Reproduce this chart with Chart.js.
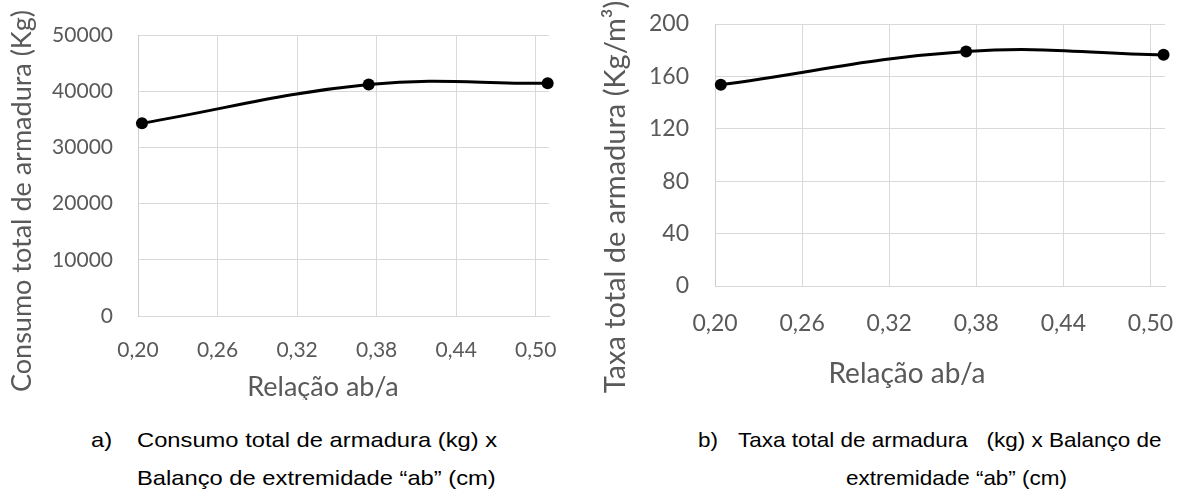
<!DOCTYPE html>
<html>
<head>
<meta charset="utf-8">
<script src="https://cdn.jsdelivr.net/npm/chart.js@4/dist/chart.umd.min.js"></script>
<style>
  body { margin: 0; background: #fff; }
  #page { position: relative; width: 1189px; height: 495px; overflow: hidden; background: #fff; }
  canvas { position: absolute; top: 0; }
  .cap { position: absolute; font-family: "Liberation Sans", Arial, sans-serif; font-size: 21px; color: #000;
         white-space: pre; line-height: 24px; transform-origin: left top; }
  .ca { transform: scaleX(1.13); }
  .cb { transform: scaleX(1.07); }
</style>
</head>
<body>
<div id="page">
  <canvas id="chartA" style="left:0" width="580" height="400"></canvas>
  <canvas id="chartB" style="left:590px" width="599" height="400"></canvas>

  <div class="cap ca" style="left:91px; top:428px">a)</div>
  <div class="cap ca" style="left:137px; top:428px">Consumo total de armadura (kg) x</div>
  <div class="cap ca" style="left:137px; top:466px">Balanço de extremidade “ab” (cm)</div>

  <div class="cap cb" style="left:698px; top:428px">b)</div>
  <div class="cap cb" style="left:738px; top:428px">Taxa total de armadura   (kg) x Balanço de</div>
  <div class="cap cb" style="left:846px; top:466px">extremidade “ab” (cm)</div>
</div>

<script>
// valores
const relacaoA = [0.203, 0.374, 0.509];
const consumo = [34300, 41200, 41400];

const relacaoB = [0.204, 0.373, 0.509];
const taxa = [153.6, 179.0, 176.5];

const xTicks = [0.20, 0.26, 0.32, 0.38, 0.44, 0.50];

const grey = "#595959";
const gridColor = "#d9d9d9";

// axis titles drawn by hand so they can sit off-centre like the Excel ones
const axisTitles = {
  id: "axisTitles",
  afterDraw(chart, args, opts) {
    const ctx = chart.ctx;
    ctx.save();
    ctx.fillStyle = grey;
    ctx.textAlign = "center";
    ctx.textBaseline = "middle";
    ctx.font = opts.xSize + "px Lato";
    ctx.fillText(opts.xText, opts.xPos[0], opts.xPos[1]);
    ctx.font = opts.ySize + "px Lato";
    ctx.translate(opts.yPos[0], opts.yPos[1]);
    ctx.rotate(-Math.PI / 2);
    ctx.fillText(opts.yText, 0, 0);
    ctx.restore();
  },
};

function makeChart(id, xs, ys, cfg) {
  const pts = xs.map((x, i) => ({ x: x, y: ys[i] }));
  return new Chart(document.getElementById(id), {
    type: "line",
    data: {
      datasets: [
        {
          data: pts,
          borderColor: "#000",
          backgroundColor: "#000",
          borderWidth: 3,
          tension: 0.4,
          pointRadius: 6,
          pointBorderWidth: 0,
          clip: false,
        },
      ],
    },
    options: {
      responsive: false,
      animation: false,
      layout: { padding: { left: 0, top: cfg.top, right: cfg.right, bottom: 0 } },
      plugins: {
        legend: { display: false },
        tooltip: { enabled: false },
        axisTitles: cfg.titles,
      },
      scales: {
        x: {
          type: "linear",
          min: 0.2,
          max: 0.51,
          afterBuildTicks: (scale) => {
            scale.ticks = xTicks.map((v) => ({ value: v }));
          },
          afterFit: (scale) => {
            scale.height = cfg.xHeight;
            scale.paddingLeft = 0;
            scale.paddingRight = 0;
          },
          grid: { color: gridColor, drawTicks: false },
          border: { color: gridColor },
          ticks: {
            color: grey,
            padding: cfg.xPad,
            font: { family: "Lato", size: cfg.tickSize },
            callback: (v) => v.toFixed(2).replace(".", ","),
          },
        },
        y: {
          min: 0,
          max: cfg.yMax,
          afterFit: (scale) => {
            scale.width = cfg.yWidth;
            scale.paddingTop = 0;
            scale.paddingBottom = 0;
          },
          grid: { color: gridColor, drawTicks: false },
          border: { color: "#cfcfcf" },
          ticks: {
            color: grey,
            stepSize: cfg.yStep,
            padding: cfg.yPad,
            font: { family: "Lato", size: cfg.tickSize },
            callback: (v) => String(v),
          },
        },
      },
    },
    plugins: [axisTitles],
  });
}

makeChart("chartA", relacaoA, consumo, {
  top: 35, right: 31, xHeight: 84, yWidth: 138,
  xPad: 22, yPad: 25, tickSize: 21, yMax: 50000, yStep: 10000,
  titles: { xSize: 27, ySize: 27, xText: "Relação ab/a", xPos: [323, 387],
            yText: "Consumo total de armadura (Kg)", yPos: [22, 201] },
});

makeChart("chartB", relacaoB, taxa, {
  top: 24, right: 24, xHeight: 114, yWidth: 125,
  xPad: 24, yPad: 26, tickSize: 23, yMax: 200, yStep: 40,
  titles: { xSize: 28, ySize: 29, xText: "Relação ab/a", xPos: [317, 374],
            yText: "Taxa total de armadura (Kg/m³)", yPos: [26, 197] },
});
</script>
</body>
</html>
